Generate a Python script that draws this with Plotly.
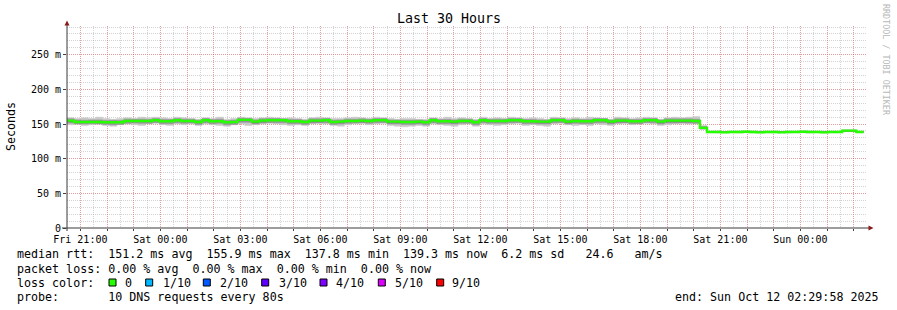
import pandas as pd
import plotly.graph_objects as go

# ---------------- data ----------------
median = [155,153,153,153,153,152.5,152.5,152.5,154.5,154.5,
          154.5,154.5,155.5,154,154,155.5,154.5,154.5,153,155.5,
          154,154,152.5,153,156,156,153.5,155,155.5,155.5,
          155.5,154,154,153,155,155,155.5,153,153.5,154.5,
          154.5,155,154.5,155.5,155.5,153.5,153.5,153,153,153.5,
          152.5,155.5,154,154,153.5,154.5,154.5,152.5,155.5,154.5,
          154.5,154.5,155.5,155.5,154,154,153.5,153.5,155.5,155.5,
          153.5,154.5,154,154,155.5,155.5,153.5,155,155,154,
          154,155.5,155.5,153.5,155,155,155,155,154.5,144.5,
          138.5,138.5,138,138.5,138.5,139,138.5,138,138.5,138.5,
          138,138.5,138.5,139,138.5,138.5,138,138.5,138.5,140.5,
          140.5,138.5]

smoke_max = [159,158,159,158,160,158,157,158,159,158,
             160,159,160,159,158,160,159,158,157,159,
             158,160,157,158,160,159,158,159,160,159,
             158,159,158,157,159,160,159,158,158,159,
             160,159,158,160,159,158,157,158,158,157,
             157,159,158,160,158,159,158,157,160,158,
             159,158,160,159,158,159,158,157,160,159,
             158,159,158,160,159,158,157,160,159,158,
             159,160,159,157,159,160,159,160,161,148,
             139.5,140,139.5,139.5,140,139.5,140,139.5,139.5,140,
             139.5,140,139.5,139.5,140,139.5,140,139.5,139.5,141.5,
             141.5,139.5]

smoke_min = [149,150,148,149,150,148,147,149,150,149,
             148,150,151,149,148,150,149,150,148,150,
             149,148,147,149,150,148,149,150,151,150,
             149,148,149,148,150,151,150,148,147,149,
             150,151,149,150,151,148,147,146,147,148,
             147,150,149,148,147,149,150,147,150,149,
             148,149,150,151,148,149,148,147,150,151,
             149,148,149,148,150,149,148,150,151,149,
             150,151,150,148,149,150,151,150,150,142,
             137.5,137,137.5,137.5,137,137.5,137,137.5,137.5,137,
             137.5,137,137.5,137.5,137,137.5,137,137.5,137.5,139,
             139,137.5]

inner_hi = [157.5,156,155.5,156,156,155,155.5,155,157,157,
            157,156.5,158,156.5,156.5,158,157,157,155.5,158,
            156.5,157,155,155.5,158.5,158,156,157.5,158,158,
            157.5,156.5,156.5,155.5,157.5,157.5,158,155.5,156,157,
            157,157.5,157,158,158,156,156,155.5,155.5,156,
            155,158,156.5,156.5,156,157,157,155,158,157,
            157,157,158,158,156.5,156.5,156,156,158,158,
            156,157,156.5,156.5,158,158,156,157.5,157.5,156.5,
            156.5,158,158,156,157.5,157.5,157.5,157.5,157,146.5,
            139.5,139.5,139,139.5,139.5,140,139.5,139,139.5,139.5,
            139,139.5,139.5,140,139.5,139.5,139,139.5,139.5,141.5,
            141.5,139.5]

inner_lo = [151.5,150,150,150.5,150,149.5,149,149.5,151,151.5,
            151,151,152,150.5,150.5,152,151,151.5,149.5,152,
            150.5,151,149,149.5,152.5,152.5,150,151.5,152,152,
            152,150.5,150.5,149.5,151.5,151.5,152,149.5,150,151,
            151.5,151.5,151,152,152,150,150,149.5,149.5,150,
            149,152,150.5,150.5,150,151,151,149,152,151,
            151,151,152,152,150.5,150.5,150,150,152,152,
            150,151,150.5,150.5,152,152,150,151.5,151.5,150.5,
            150.5,152,152,150,151.5,151.5,151.5,151.5,151,143,
            137.8,137.8,137.5,137.8,137.8,138,137.8,137.5,137.8,137.8,
            137.5,137.8,137.8,138,137.8,137.8,137.5,137.8,137.8,139.5,
            139.5,137.8]

for arr in (smoke_max, smoke_min, inner_hi, inner_lo):
    assert len(arr) == len(median)

x_start = "2025-10-10 20:29:58"
x_end = "2025-10-12 02:29:58"
times = pd.date_range("2025-10-10 20:30:00", periods=len(median) + 1, freq="16min")

y_tick_vals = [0, 50, 100, 150, 200, 250]
y_tick_text = ["0", "50 m", "100 m", "150 m", "200 m", "250 m"]

hour_ticks = pd.date_range("2025-10-10 21:00", "2025-10-12 02:00", freq="1h")
x_tick_text = [t.strftime("%a %H:%M") if t.hour % 3 == 0 else "" for t in hour_ticks]

loss_labels = ["0", "1/10", "2/10", "3/10", "4/10", "5/10", "9/10"]
loss_colors = ["#26ff00", "#00b8ff", "#0059ff", "#5e00ff", "#7e00ff", "#dd00ff", "#ff0000"]

stats_line = "median rtt:  151.2 ms avg  155.9 ms max  137.8 ms min  139.3 ms now  6.2 ms sd   24.6   am/s"
loss_line = "packet loss: 0.00 % avg  0.00 % max  0.00 % min  0.00 % now"
probe_line = "probe:       10 DNS requests every 80s"
end_line = "end: Sun Oct 12 02:29:58 2025"
title = "Last 30 Hours"

# ---------------- layout helpers ----------------
W, H = 897, 310
L, R, T, B = 67, 867, 26, 228
MONO = "DejaVu Sans Mono"


def px(xp):
    return (xp - L) / (R - L)


def py(yp):
    return (B - yp) / (B - T)


def ext(vals):
    return list(vals) + [vals[-1]]


tx = list(times)
fig = go.Figure()


def band(lo, hi, color):
    fig.add_trace(go.Scatter(x=tx, y=ext(lo), mode="lines",
                             line=dict(width=0.5, shape="hv", color=color),
                             hoverinfo="skip", showlegend=False))
    fig.add_trace(go.Scatter(x=tx, y=ext(hi), mode="lines",
                             line=dict(width=0.5, shape="hv", color=color),
                             fill="tonexty", fillcolor=color, hoverinfo="skip", showlegend=False))


band(smoke_min, smoke_max, "#c8c8c8")
band(inner_lo, inner_hi, "#959595")
fig.add_trace(go.Scatter(x=tx, y=ext(median), mode="lines",
                         line=dict(width=1.2, shape="hv", color="#202020"), showlegend=False))
fig.add_trace(go.Scatter(x=tx, y=ext(median), mode="lines",
                         line=dict(width=2.4, shape="hv", color="#26ff00"), showlegend=False))

major_grid = "rgba(255,60,60,0.36)"
minor_grid = "rgba(140,140,140,0.38)"

fig.update_xaxes(
    range=[x_start, x_end], tickmode="array", tickvals=list(hour_ticks), ticktext=x_tick_text,
    showgrid=True, gridcolor=major_grid, griddash="1px,1px", gridwidth=1,
    ticks="outside", ticklen=2, tickcolor="#404040", showline=False, zeroline=False,
    tickfont=dict(family=MONO, size=10, color="#000"), tickangle=0,
    minor=dict(dtick=1800000, tick0="2025-10-10 21:00", showgrid=True, gridcolor=minor_grid,
               griddash="1px,1px", ticks=""),
)
fig.update_yaxes(
    range=[0, 291.5], tickmode="array", tickvals=y_tick_vals, ticktext=y_tick_text,
    showgrid=True, gridcolor=major_grid, griddash="1px,1px", gridwidth=1,
    ticks="outside", ticklen=3, tickcolor="#404040", showline=False, zeroline=False,
    tickfont=dict(family=MONO, size=10, color="#000"),
    minor=dict(dtick=10, tick0=0, showgrid=True, gridcolor=minor_grid, griddash="1px,1px", ticks=""),
)

shapes = []
shapes.append(dict(type="line", xref="paper", yref="paper", x0=px(L), x1=px(L), y0=py(231), y1=py(23),
                   line=dict(color="#3a3a3a", width=1)))
shapes.append(dict(type="line", xref="paper", yref="paper", x0=px(62), x1=px(869), y0=py(B), y1=py(B),
                   line=dict(color="#3a3a3a", width=1)))
shapes.append(dict(type="path", xref="paper", yref="paper",
                   path=f"M {px(64.5)} {py(25.5)} L {px(69.5)} {py(25.5)} L {px(67)} {py(20.5)} Z",
                   fillcolor="#8b1a1a", line=dict(width=0)))
shapes.append(dict(type="path", xref="paper", yref="paper",
                   path=f"M {px(868.5)} {py(225.5)} L {px(868.5)} {py(230.5)} L {px(873.5)} {py(228)} Z",
                   fillcolor="#8b1a1a", line=dict(width=0)))

annotations = []


def txt(s, x, y, size=11.66, xanchor="left", color="#000", angle=0):
    annotations.append(dict(text=s.replace(" ", "\u00a0"), xref="paper", yref="paper", x=px(x), y=py(y),
                            xanchor=xanchor, yanchor="middle", showarrow=False, textangle=angle,
                            font=dict(family=MONO, size=size, color=color)))


txt(title, 448.5, 19, size=13.3, xanchor="center")
txt("Seconds", 11, 126, xanchor="center", angle=-90)
txt("RRDTOOL / TOBI OETIKER", 886, 60, size=8.4, xanchor="center", color="#b8b8b8", angle=90)
txt(stats_line, 15, 254.5)
txt(loss_line, 15, 268.5)
txt("loss color:", 15, 282.5)
txt(probe_line, 15, 296.5)
txt(end_line, 881, 296.5, xanchor="right")

box_x = [109, 145.7, 203.3, 261.7, 320, 378.3, 436.7]
label_x = [123.3, 161, 218.3, 276.7, 334.3, 392.7, 450]
for bx, lx, lab, col in zip(box_x, label_x, loss_labels, loss_colors):
    shapes.append(dict(type="rect", xref="paper", yref="paper", x0=px(bx), x1=px(bx + 7),
                       y0=py(286), y1=py(279), fillcolor=col, line=dict(color="#000", width=1)))
    txt(lab, lx, 282.5)

fig.update_layout(
    width=W, height=H, margin=dict(l=L, r=W - R, t=T, b=H - B),
    paper_bgcolor="white", plot_bgcolor="white",
    shapes=shapes, annotations=annotations, showlegend=False,
)

fig.write_html("out.html")
